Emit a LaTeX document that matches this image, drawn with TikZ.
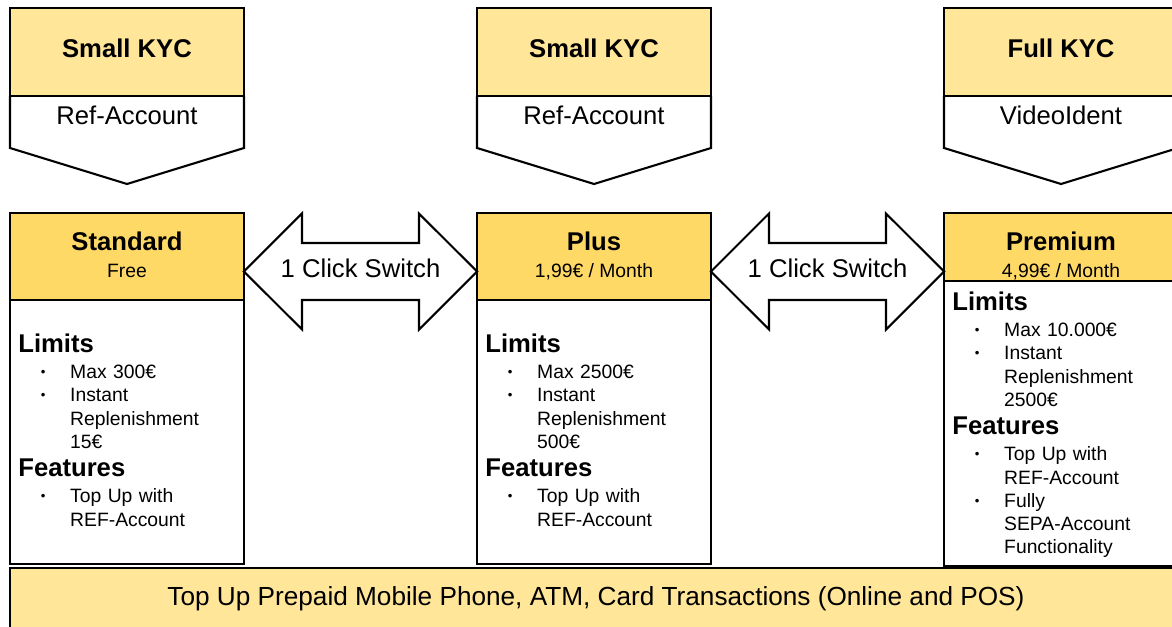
\documentclass[tikz,border=0pt]{standalone}
\usepackage{fontspec}
\setmainfont{Liberation Sans}
\usetikzlibrary{positioning}
\definecolor{kycyellow}{HTML}{FFE699}
\definecolor{tieryellow}{HTML}{FFD966}
\newcommand\bighead{\fontsize{14.6}{17}\selectfont}
\newcommand\bhead[1]{{\bighead\bfseries #1}}
\newcommand\bitem[1]{\hspace*{12.8pt}\makebox[16.7pt][l]{\raisebox{1.3pt}{\fontsize{7.5}{7.5}\selectfont\textbullet}}#1}
\newcommand\bcont[1]{\hspace*{29.5pt}#1}
\tikzset{
  boxframe/.style={draw,line width=1.2pt,outer sep=0pt,inner sep=0pt,minimum width=4.68cm},
  kycbox/.style={boxframe,fill=kycyellow,minimum height=1.76cm},
  tierbox/.style={boxframe,fill=tieryellow,minimum height=1.74cm},
  bodybox/.style={boxframe,fill=white,minimum height=5.28cm},
  kyctitle/.style={anchor=base,font=\bighead\bfseries,inner sep=0pt},
  kycsub/.style={anchor=base,font=\bighead,inner sep=0pt},
  tierprice/.style={anchor=base,font=\fontsize{11}{13.2}\selectfont,inner sep=0pt},
  bodytext/.style={anchor=north west,inner sep=0pt,text width=4.3cm,align=left,
                   font=\fontsize{11}{13.2}\selectfont},
  chevron/.style={line width=1.2pt,line join=miter},
  switcharrow/.style={line width=1.2pt,line join=miter,fill=white},
}

\begin{document}
\begin{tikzpicture}[x=0.02cm,y=-0.02cm]
  \useasboundingbox (0,0) rectangle (1172,626);

  % KYC level on top
  \node[kycbox] (kyc1) at (127,52) {};
  \node[kycbox] (kyc2) at (594,52) {};
  \node[kycbox] (kyc3) at (1061,52) {};
  \foreach \k in {kyc1,kyc2,kyc3}
    \draw[chevron] (\k.south west) -- ++(0,52) -- ++(117,36) -- ++(117,-36) -- (\k.south east);
  \node[kyctitle] (kyc1t) at (127,57) {Small KYC};
  \node[kyctitle] (kyc2t) at (594,57) {Small KYC};
  \node[kyctitle] (kyc3t) at (1061,57) {Full KYC};
  \node[kycsub] (kyc1s) at (127,124) {Ref-Account};
  \node[kycsub] (kyc2s) at (594,124) {Ref-Account};
  \node[kycsub] (kyc3s) at (1061,124) {VideoIdent};

  % tiers
  \node[tierbox] (std) at (127,256.5) {};
  \node[tierbox] (plus) at (594,256.5) {};
  \node[tierbox,minimum height=1.36cm] (prem) at (1061,247) {};
  \node[bodybox,below=0pt of std] (stdbody) {};
  \node[bodybox,below=0pt of plus] (plusbody) {};
  \node[bodybox,minimum height=5.7cm,below=0pt of prem] (prembody) {};

  \node[kyctitle] (stdname) at (127,250) {Standard};
  \node[kyctitle] (plusname) at (594,250) {Plus};
  \node[kyctitle] (premname) at (1061,250) {Premium};
  \node[tierprice] (stdprice) at (127,277) {Free};
  \node[tierprice] (plusprice) at (594,277) {1,99€ / Month};
  \node[tierprice] (premprice) at (1061,277) {4,99€ / Month};

  % switch arrows
  \coordinate (sw1) at (360.5,271.5);
  \coordinate (sw2) at (827.5,271.5);
  \draw[switcharrow] (std.east |- sw1) -- ++(58,-58) -- ++(0,29.5) -- ++(117,0) -- ++(0,-29.5)
    -- (plus.west |- sw1) -- ++(-58,58) -- ++(0,-29.5) -- ++(-117,0) -- ++(0,29.5) -- cycle;
  \draw[switcharrow] (plus.east |- sw2) -- ++(58,-58) -- ++(0,29.5) -- ++(117,0) -- ++(0,-29.5)
    -- (prem.west |- sw2) -- ++(-58,58) -- ++(0,-29.5) -- ++(-117,0) -- ++(0,29.5) -- cycle;
  \node[kycsub] (sw1t) at (360.5,277) {1 Click Switch};
  \node[kycsub] (sw2t) at (827.5,277) {1 Click Switch};

  % limits and features
  \node[bodytext] (stdtext) at (18,334) {%
    \bhead{Limits}\\[1.5pt]
    \bitem{Max 300€}\\
    \bitem{Instant}\\
    \bcont{Replenishment}\\
    \bcont{15€}\\[2.9pt]
    \bhead{Features}\\[1.8pt]
    \bitem{Top Up with}\\
    \bcont{REF-Account}};
  \node[bodytext] (plustext) at (485,334) {%
    \bhead{Limits}\\[1.5pt]
    \bitem{Max 2500€}\\
    \bitem{Instant}\\
    \bcont{Replenishment}\\
    \bcont{500€}\\[2.9pt]
    \bhead{Features}\\[1.8pt]
    \bitem{Top Up with}\\
    \bcont{REF-Account}};
  \node[bodytext] (premtext) at (952,292) {%
    \bhead{Limits}\\[1.5pt]
    \bitem{Max 10.000€}\\
    \bitem{Instant}\\
    \bcont{Replenishment}\\
    \bcont{2500€}\\[2.9pt]
    \bhead{Features}\\[1.8pt]
    \bitem{Top Up with}\\
    \bcont{REF-Account}\\
    \bitem{Fully}\\
    \bcont{SEPA-Account}\\
    \bcont{Functionality}};

  % common bar
  \node[boxframe,fill=kycyellow,minimum width=23.44cm,minimum height=1.24cm,
        font=\fontsize{14.9}{17}\selectfont,yshift=-0.04cm]
    (bar) at (596,597) {\raisebox{1.6pt}{Top Up Prepaid Mobile Phone, ATM, Card Transactions (Online and POS)}};
\end{tikzpicture}
\end{document}
